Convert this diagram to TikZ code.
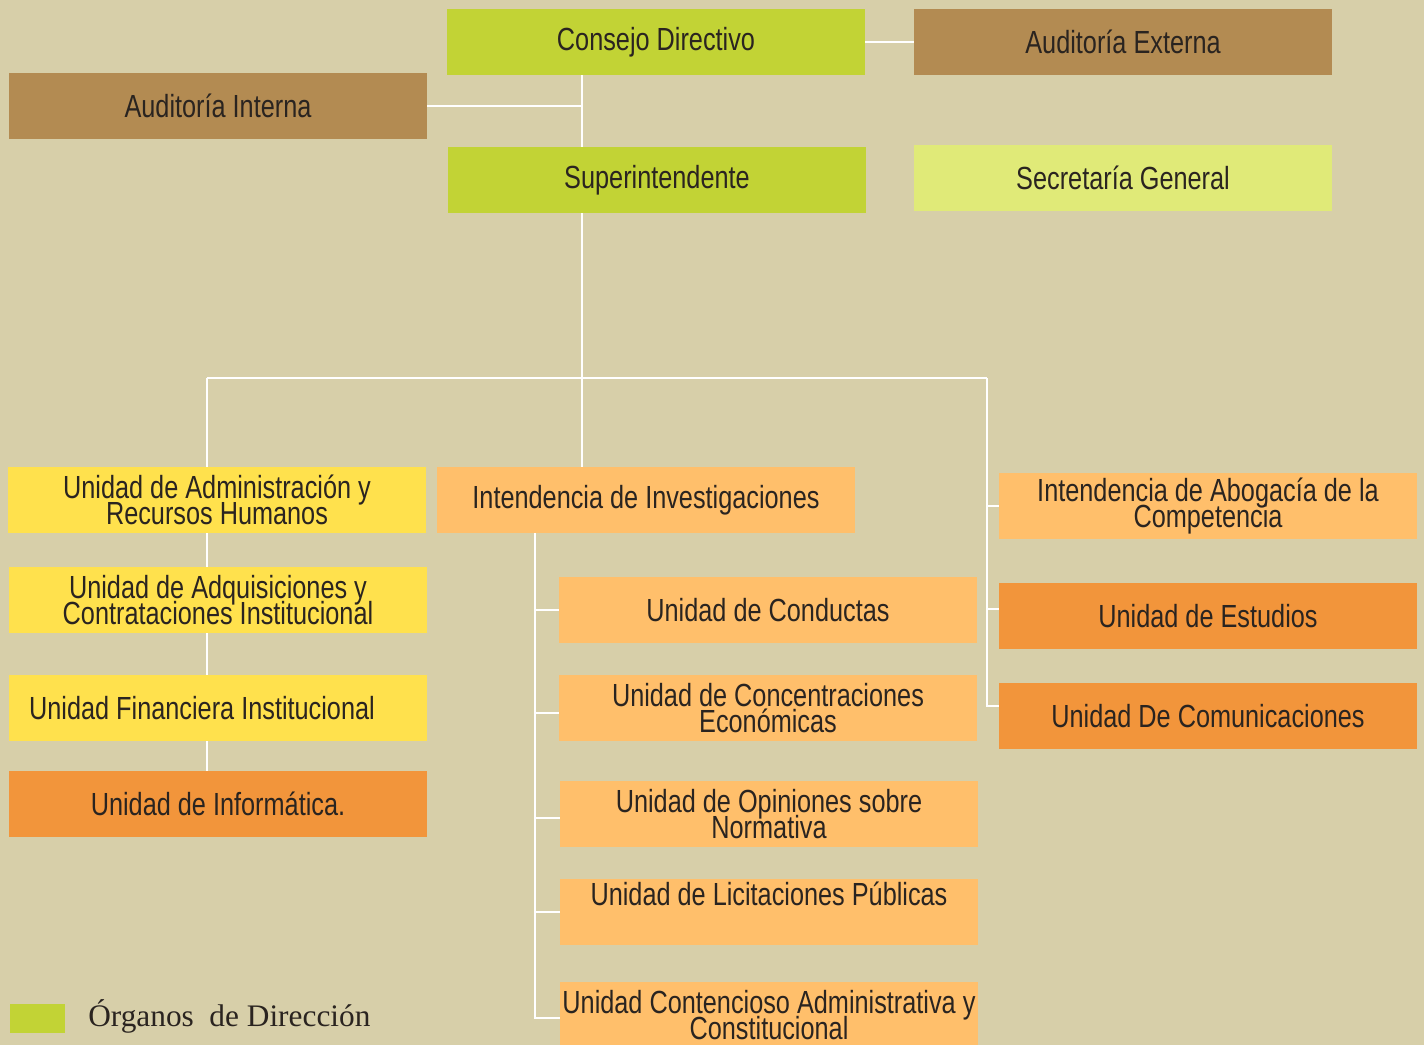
\documentclass[tikz,border=0pt]{standalone}
\usepackage{fontspec}
\setmainfont{Liberation Serif}
\newfontfamily\cond[FakeStretch=0.79]{Liberation Sans}
\usetikzlibrary{calc}
\definecolor{bgc}{HTML}{D7CFA9}
\definecolor{cgreen}{HTML}{C2D335}
\definecolor{cbrown}{HTML}{B38B52}
\definecolor{clgreen}{HTML}{E0EA78}
\definecolor{cyellow}{HTML}{FFE14D}
\definecolor{clorange}{HTML}{FFBF6B}
\definecolor{corange}{HTML}{F2953B}
\definecolor{ctext}{HTML}{2A2420}
\pgfdeclarelayer{connlayer}
\pgfdeclarelayer{bglayer}
\pgfsetlayers{bglayer,connlayer,main}
\tikzset{
  box/.style={minimum width=313.5pt, minimum height=49.5pt, inner sep=0pt,
    align=center, text=ctext,
    font={\cond\fontsize{24}{19.5}\selectfont\lineskiplimit=-100pt\lineskip=0pt}},
  conn/.style={draw=white, line width=0.9pt},
}
\begin{document}
\begin{tikzpicture}[x=0.75pt,y=-0.75pt]
\begin{pgfonlayer}{bglayer}
\fill[bgc] (0,0) rectangle (1424,1045);
\end{pgfonlayer}
\useasboundingbox (0,0) rectangle (1424,1045);

% top level
\node[box, fill=cgreen] (cd) at (656,42) {Consejo Directivo};
\node[box, fill=cbrown] (ae) at (1123,42) {Auditoría Externa};
\node[box, fill=cbrown] (ai) at (218,106) {Auditoría Interna};
\node[box, fill=cgreen] (si) at (657,180) {Superintendente};
\node[box, fill=clgreen] (sg) at (1123,178) {Secretaría General};

% left column
\node[box, fill=cyellow] (uadm) at (217,500) {Unidad de Administración y\\Recursos Humanos};
\node[box, fill=cyellow] (uadq) at (218,600) {Unidad de Adquisiciones y\\Contrataciones Institucional};
\node[box, fill=cyellow] (ufin) at (218,708) {Unidad Financiera Institucional\hspace*{24pt}};
\node[box, fill=corange] (uinf) at (218,804) {Unidad de Informática.};

% middle column
\node[box, fill=clorange] (ii) at (646,500) {Intendencia de Investigaciones};
\node[box, fill=clorange] (ucon) at (768,610) {Unidad de Conductas};
\node[box, fill=clorange] (ucc) at (768,708) {Unidad de Concentraciones\\Económicas};
\node[box, fill=clorange] (uop) at (769,814) {Unidad de Opiniones sobre\\Normativa};
\node[box, fill=clorange, text depth=27pt] (ulic) at (769,912) {Unidad de Licitaciones Públicas};
\node[box, fill=clorange] (ucont) at (769,1015) {Unidad Contencioso Administrativa y\\Constitucional};

% right column
\node[box, fill=clorange] (iab) at (1208,506) {Intendencia de Abogacía de la\\Competencia};
\node[box, fill=corange] (uest) at (1208,616) {Unidad de Estudios};
\node[box, fill=corange] (ucom) at (1208,716) {Unidad De Comunicaciones};

% legend
\node[fill=cgreen, minimum width=41.25pt, minimum height=21.75pt, inner sep=0pt] (leg) at (37.5,1018.5) {};
\node[anchor=west, inner sep=0pt, text=ctext, font=\fontsize{23.5}{26}\selectfont] (legt) at (88,1016) {Órganos\ \ de Dirección};

% helper coordinates
\coordinate (spine) at (582,0);
\coordinate (busL) at (207,378);
\coordinate (busR) at (987,378);
\coordinate (midx) at (535,0);

\begin{pgfonlayer}{connlayer}
\draw[conn] (cd.east) -- (ae.west);
\draw[conn] (cd.south -| spine) -- (si.north -| spine);
\draw[conn] (ai.east) -- (ai.east -| spine);
\draw[conn] (si.south -| spine) -- (ii.north -| spine);
\draw[conn] (busL) -- (busR);
\draw[conn] (busL) -- (uinf.north -| busL);
\draw[conn] (busR) |- (iab.west);
\draw[conn] (busR) |- ($(uest.west)+(0,-7)$);
\draw[conn] (busR) |- ($(ucom.west)+(0,-10)$);
\draw[conn] (ii.south -| midx) |- (ucon.west);
\draw[conn] (ii.south -| midx) |- ($(ucc.west)+(0,5)$);
\draw[conn] (ii.south -| midx) |- ($(uop.west)+(0,4)$);
\draw[conn] (ii.south -| midx) |- (ulic.west);
\draw[conn] (ii.south -| midx) |- ($(ucont.west)+(0,3)$);
\end{pgfonlayer}
\end{tikzpicture}
\end{document}
